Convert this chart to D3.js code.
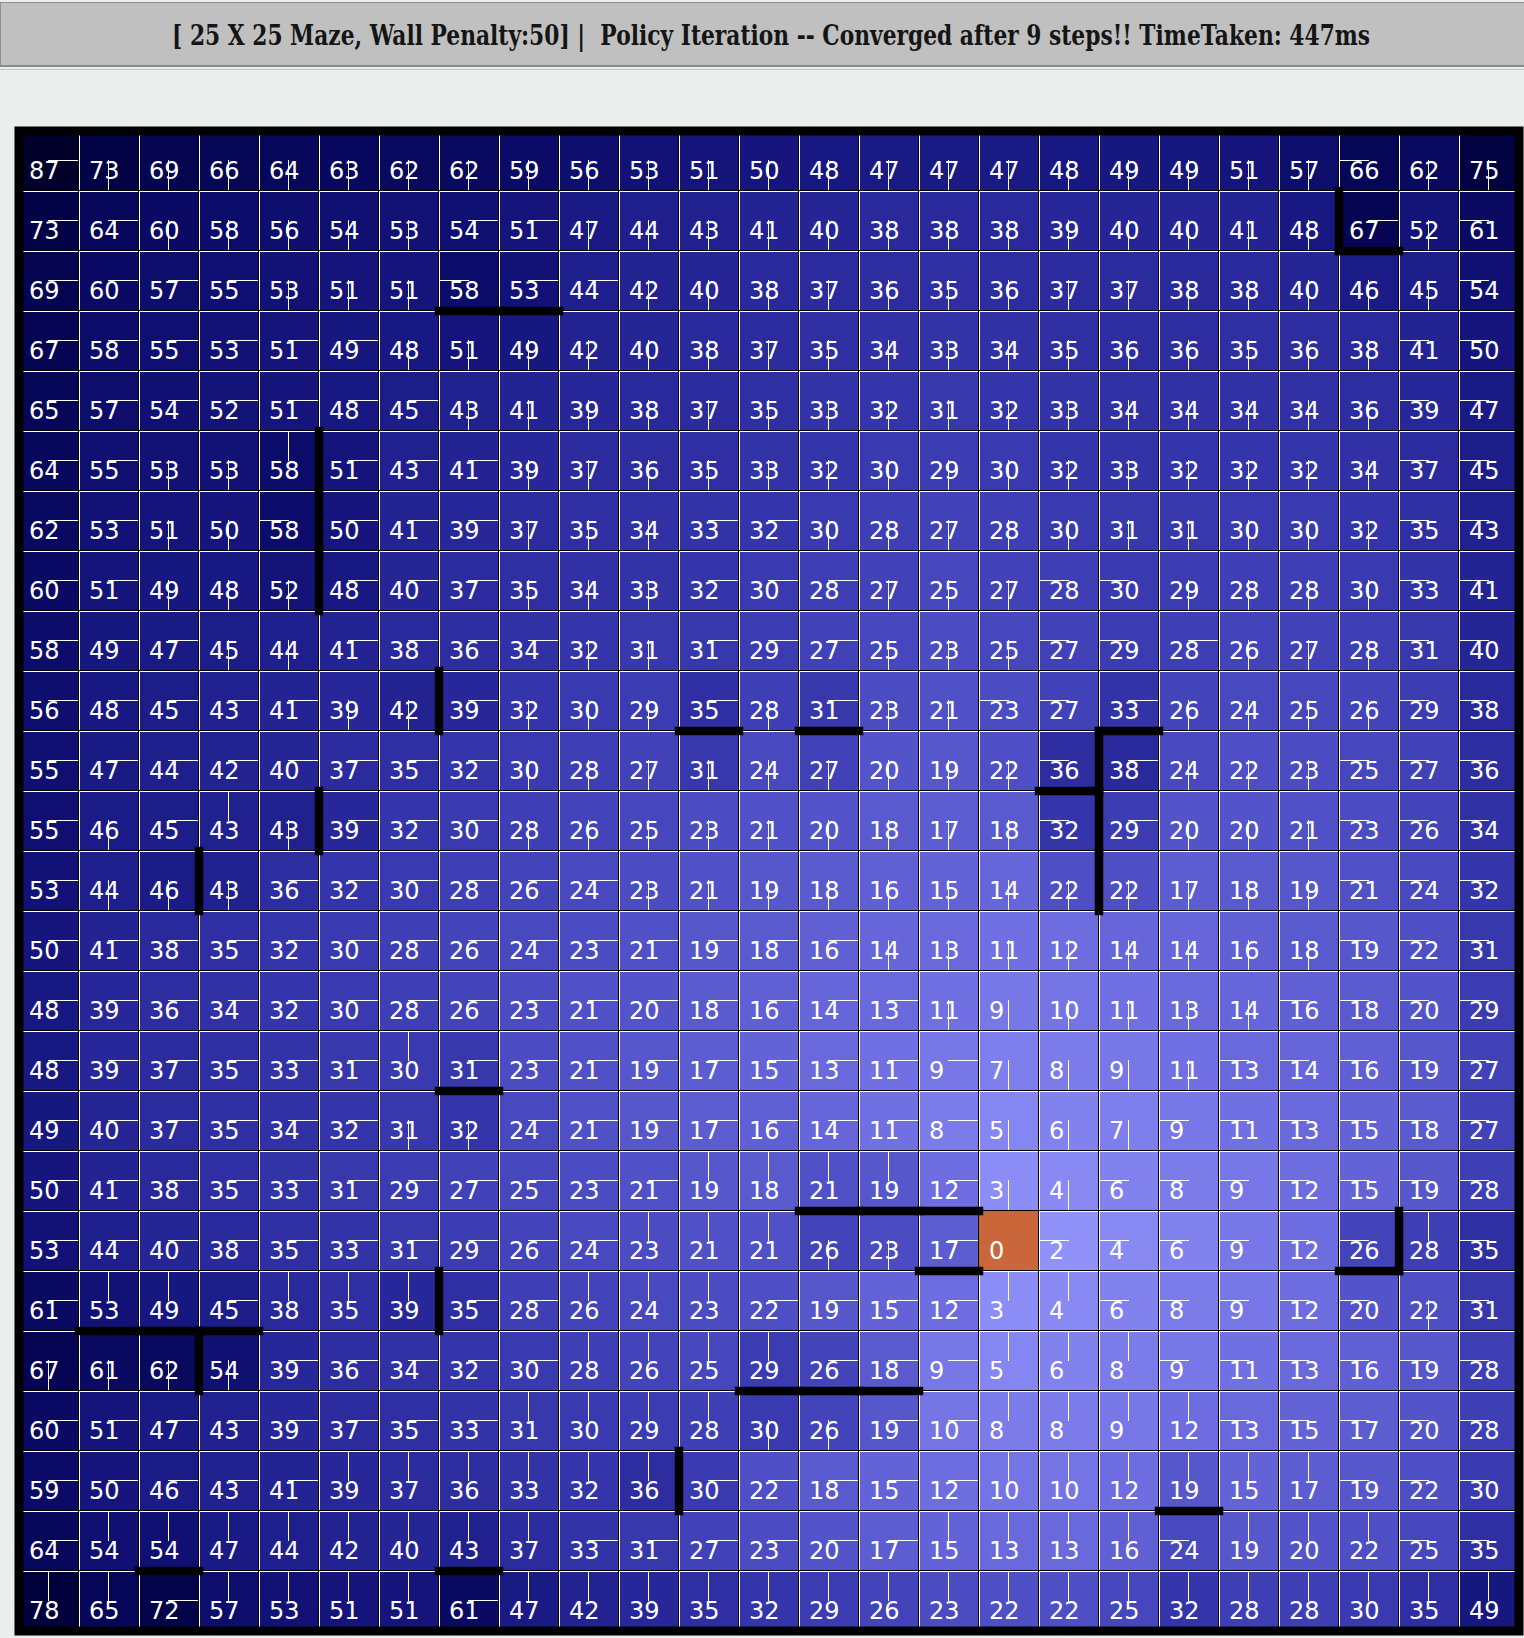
<!DOCTYPE html>
<html>
<head>
<meta charset="utf-8">
<script src="https://cdn.jsdelivr.net/npm/d3@7"></script>
<style>
  html, body { margin: 0; padding: 0; background: #eaefed; }
  svg { display: block; }
</style>
</head>
<body>
<div id="chart"></div>
<script>
// --- chart data ---
const title = "[ 25 X 25 Maze, Wall Penalty:50] |  Policy Iteration -- Converged after 9 steps!! TimeTaken: 447ms";

// cost-to-goal for every cell, row by row
const values = [
  [87,73,69,66,64,63,62,62,59,56,53,51,50,48,47,47,47,48,49,49,51,57,66,62,75],
  [73,64,60,58,56,54,53,54,51,47,44,43,41,40,38,38,38,39,40,40,41,48,67,52,61],
  [69,60,57,55,53,51,51,58,53,44,42,40,38,37,36,35,36,37,37,38,38,40,46,45,54],
  [67,58,55,53,51,49,48,51,49,42,40,38,37,35,34,33,34,35,36,36,35,36,38,41,50],
  [65,57,54,52,51,48,45,43,41,39,38,37,35,33,32,31,32,33,34,34,34,34,36,39,47],
  [64,55,53,53,58,51,43,41,39,37,36,35,33,32,30,29,30,32,33,32,32,32,34,37,45],
  [62,53,51,50,58,50,41,39,37,35,34,33,32,30,28,27,28,30,31,31,30,30,32,35,43],
  [60,51,49,48,52,48,40,37,35,34,33,32,30,28,27,25,27,28,30,29,28,28,30,33,41],
  [58,49,47,45,44,41,38,36,34,32,31,31,29,27,25,23,25,27,29,28,26,27,28,31,40],
  [56,48,45,43,41,39,42,39,32,30,29,35,28,31,23,21,23,27,33,26,24,25,26,29,38],
  [55,47,44,42,40,37,35,32,30,28,27,31,24,27,20,19,22,36,38,24,22,23,25,27,36],
  [55,46,45,43,43,39,32,30,28,26,25,23,21,20,18,17,18,32,29,20,20,21,23,26,34],
  [53,44,46,43,36,32,30,28,26,24,23,21,19,18,16,15,14,22,22,17,18,19,21,24,32],
  [50,41,38,35,32,30,28,26,24,23,21,19,18,16,14,13,11,12,14,14,16,18,19,22,31],
  [48,39,36,34,32,30,28,26,23,21,20,18,16,14,13,11, 9,10,11,13,14,16,18,20,29],
  [48,39,37,35,33,31,30,31,23,21,19,17,15,13,11, 9, 7, 8, 9,11,13,14,16,19,27],
  [49,40,37,35,34,32,31,32,24,21,19,17,16,14,11, 8, 5, 6, 7, 9,11,13,15,18,27],
  [50,41,38,35,33,31,29,27,25,23,21,19,18,21,19,12, 3, 4, 6, 8, 9,12,15,19,28],
  [53,44,40,38,35,33,31,29,26,24,23,21,21,26,23,17, 0, 2, 4, 6, 9,12,26,28,35],
  [61,53,49,45,38,35,39,35,28,26,24,23,22,19,15,12, 3, 4, 6, 8, 9,12,20,22,31],
  [67,61,62,54,39,36,34,32,30,28,26,25,29,26,18, 9, 5, 6, 8, 9,11,13,16,19,28],
  [60,51,47,43,39,37,35,33,31,30,29,28,30,26,19,10, 8, 8, 9,12,13,15,17,20,28],
  [59,50,46,43,41,39,37,36,33,32,36,30,22,18,15,12,10,10,12,19,15,17,19,22,30],
  [64,54,54,47,44,42,40,43,37,33,31,27,23,20,17,15,13,13,16,24,19,20,22,25,35],
  [78,65,72,57,53,51,51,61,47,42,39,35,32,29,26,23,22,22,25,32,28,28,30,35,49]
];

// policy per cell: U / D / L / R, G = goal
const policy = [
  "R D D D D D D D D D D D D D D D D D D D D D L D D",
  "R R D D D D D R R D D D D D D D D D D D D D R D L",
  "R R R R D D D L R R D D D D D D D D D D D D D D L",
  "R R R R R R D D D D D D D D D D D D D D D D D L L",
  "R R R R R R R D D D D D D D D D D D D D D D D L L",
  "R R D D U R R R D D D D D D D D D D D D D D D L L",
  "R R D D L R R R D D D R R D D D D D D D D D D L L",
  "R R D D D R R R D D D R R R D D D L L D D D D L L",
  "R R R D D R R R R D D R R R D D D L L R D D D L L",
  "R R R R R D D R D D D R D R D D L L R D D D D L L",
  "R R R R R R R R D D D D D D D D D L R D D D L L L",
  "R D R U D R R R D D D D D D D D D L R D D D L L L",
  "R D D D R R R R R R D D D D D D D D D D D D L L L",
  "R R R R R R R R R R R R R R D D D D D D D D L L L",
  "R R R R R R R R R R R R R R R D D D D D D L L L L",
  "R R R R R R U R R R R R R R R R D D D D L L L L L",
  "R R R R R R D D R R R R R R R R D D D L L L L L L",
  "R R R R R R R R R R R U U U U R D D L L L L L L L",
  "R R R R R R R R R R U U U D D R G L L L L L L U L",
  "R U U R U U U R R U U U R R R R U U L L L L L D L",
  "D D D D R R R R R U U U U R R R U U U L L L L L L",
  "R R R R R R R R U U U U D D R R U U U U L L L L L",
  "R R R R R U U U U U U R R R R R U U U U U U L L L",
  "R U U U U U U U U R R R R R R U U U U L U U U L L",
  "U U R U U U U R U U U U U U U U U U U U U U U U U"
];

// walls: [row, col] of the cell whose bottom / right edge is blocked
const wallsBelow = [
  [1,22],[2,7],[2,8],[9,11],[9,13],[9,18],[10,17],[15,7],
  [17,13],[17,14],[17,15],[18,15],[18,22],[19,1],[19,2],[19,3],
  [20,12],[20,13],[20,14],[22,19],[23,2],[23,7]
];
const wallsRight = [
  [1,21],[5,4],[6,4],[7,4],[9,6],[10,17],[11,17],[12,17],
  [11,4],[12,2],[18,22],[19,6],[20,2],[22,10]
];

// --- layout ---
const W = 1524, H = 1638;
const nRows = values.length, nCols = values[0].length;
const cellSize = 60, gridX = 19, gridY = 131;

const cells = [];
values.forEach((row, r) => {
  const dirs = policy[r].split(" ");
  if (dirs.length !== nCols) throw new Error("policy row " + r + " has " + dirs.length);
  row.forEach((v, c) => cells.push({ r, c, v, dir: dirs[c] }));
});

const x = d3.scaleBand().domain(d3.range(nCols)).range([gridX, gridX + cellSize * nCols]);
const y = d3.scaleBand().domain(d3.range(nRows)).range([gridY, gridY + cellSize * nRows]);

// dark navy for high cost, light periwinkle near the goal
const maxV = d3.max(values.flat());
const light = d3.scaleLinear().domain([maxV, 0]).range([0, 1]);
const redGreen = d3.scalePow().exponent(2.3).domain([0, 1]).range([0, 153]);
const blue = d3.scalePow().exponent(1.1).domain([0, 1]).range([42, 255]);
const fillOf = d => d.dir === "G" ? "#c9663a"
  : d3.rgb(redGreen(light(d.v)), redGreen(light(d.v)), blue(light(d.v))).toString();

const svg = d3.select("#chart").append("svg")
  .attr("width", W).attr("height", H);

svg.append("rect").attr("width", W).attr("height", H).attr("fill", "#eaefed");

// --- header bar ---
const head = svg.append("g").attr("shape-rendering", "crispEdges");
head.append("rect").attr("x", 0).attr("y", 3).attr("width", W).attr("height", 62).attr("fill", "#c0c0c0");
head.append("line").attr("x1", 0).attr("x2", W).attr("y1", 2.5).attr("y2", 2.5).attr("stroke", "#8e8e8e");
head.append("line").attr("x1", 0.5).attr("x2", 0.5).attr("y1", 2).attr("y2", 66).attr("stroke", "#8e8e8e");
head.append("line").attr("x1", 0).attr("x2", W).attr("y1", 65.5).attr("y2", 65.5).attr("stroke", "#8a8a8a").attr("stroke-width", 2);
head.append("line").attr("x1", 0).attr("x2", W).attr("y1", 69.5).attr("y2", 69.5).attr("stroke", "#c4c4c4");

// title: sized for cap height, then squeezed to the reference width
const titleText = svg.append("text")
  .attr("x", 0).attr("y", 0)
  .attr("font-family", "'DejaVu Serif', 'Liberation Serif', serif")
  .attr("font-weight", "bold")
  .attr("font-size", 27)
  .attr("fill", "#151515")
  .style("white-space", "pre")
  .text(title);
const tw = titleText.node().getComputedTextLength();
titleText.attr("transform", `translate(172,45) scale(${1199 / tw},1)`);

// --- grid ---
const g = svg.append("g");

const cellG = g.selectAll(".cell").data(cells).join("g")
  .attr("class", "cell")
  .attr("transform", d => `translate(${x(d.c)},${y(d.r)})`);

cellG.append("rect")
  .attr("width", x.bandwidth()).attr("height", y.bandwidth())
  .attr("fill", fillOf)
  .attr("shape-rendering", "crispEdges");

// separator: dark line, then a white highlight on the top / left edge
cellG.append("path")
  .attr("d", "M-1,60 V-0.5 H60")
  .attr("transform", "translate(0.5,0)")
  .attr("fill", "none").attr("stroke", "#000").attr("stroke-width", 1)
  .attr("shape-rendering", "crispEdges");
cellG.filter(d => d.dir !== "G").append("path")
  .attr("d", "M0.5,60 V0.5 H60")
  .attr("fill", "none").attr("stroke", "#fff").attr("stroke-width", 1)
  .attr("shape-rendering", "crispEdges");

cellG.append("text")
  .attr("x", 10).attr("y", 48)
  .attr("font-family", "'DejaVu Sans', sans-serif")
  .attr("font-size", 24)
  .attr("fill", "#fff")
  .text(d => d.v);

// policy stroke from the cell centre to the edge it points at
const arrow = {
  R: [29, 29.5, 59, 29.5],
  L: [1, 29.5, 30, 29.5],
  D: [29.5, 29, 29.5, 59],
  U: [29.5, 1, 29.5, 30]
};
cellG.filter(d => arrow[d.dir]).append("line")
  .attr("x1", d => arrow[d.dir][0]).attr("y1", d => arrow[d.dir][1])
  .attr("x2", d => arrow[d.dir][2]).attr("y2", d => arrow[d.dir][3])
  .attr("stroke", "#fff").attr("stroke-width", 1.2)
  .attr("shape-rendering", "crispEdges");

// --- walls ---
const wallW = 8.5;
g.selectAll(".wall-h").data(wallsBelow).join("line")
  .attr("class", "wall-h")
  .attr("x1", d => x(d[1])).attr("x2", d => x(d[1]) + x.bandwidth())
  .attr("y1", d => y(d[0]) + y.bandwidth()).attr("y2", d => y(d[0]) + y.bandwidth())
  .attr("stroke", "#000").attr("stroke-width", wallW).attr("stroke-linecap", "square");

g.selectAll(".wall-v").data(wallsRight).join("line")
  .attr("class", "wall-v")
  .attr("x1", d => x(d[1]) + x.bandwidth()).attr("x2", d => x(d[1]) + x.bandwidth())
  .attr("y1", d => y(d[0])).attr("y2", d => y(d[0]) + y.bandwidth())
  .attr("stroke", "#000").attr("stroke-width", wallW).attr("stroke-linecap", "square");

// outer frame
g.append("rect")
  .attr("x", gridX).attr("y", gridY)
  .attr("width", cellSize * nCols).attr("height", cellSize * nRows)
  .attr("fill", "none").attr("stroke", "#000").attr("stroke-width", 9);
</script>
</body>
</html>
